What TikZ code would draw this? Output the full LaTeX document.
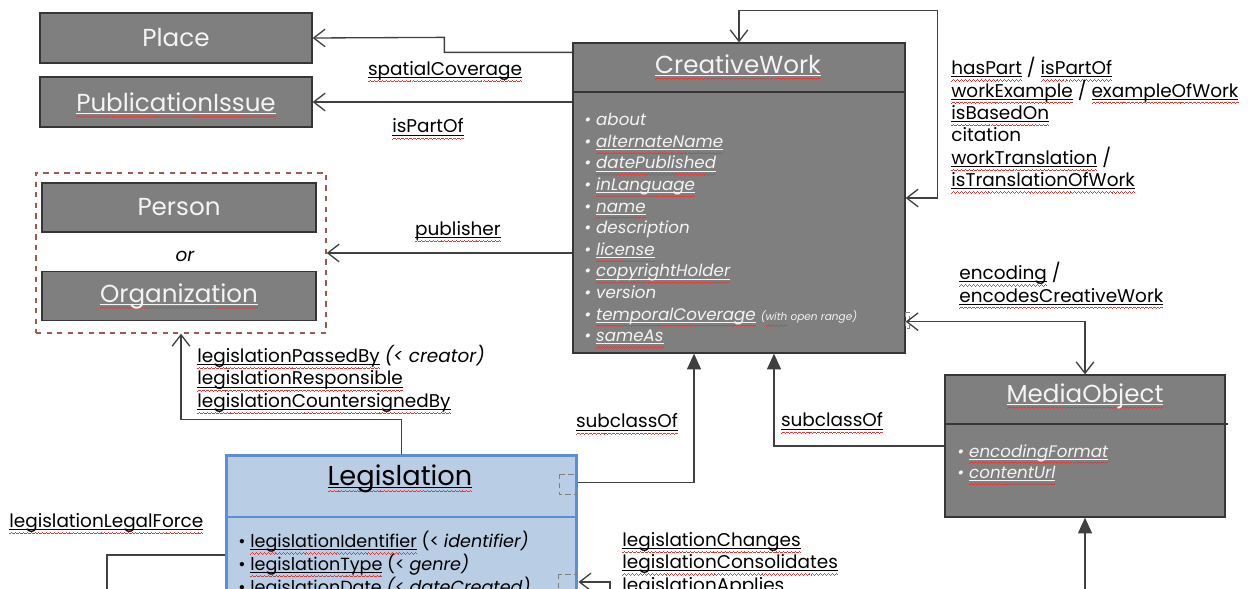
\documentclass[tikz,border=0pt]{standalone}
\usepackage{fontspec}
\setmainfont{Poppins}
\usetikzlibrary{arrows.meta}

\definecolor{boxgray}{HTML}{7F7F7F}
\definecolor{boxline}{HTML}{363636}
\definecolor{boxtext}{HTML}{F4F4F4}
\definecolor{legfill}{HTML}{B9CDE5}
\definecolor{legline}{HTML}{5B8ED6}
\definecolor{grpline}{HTML}{9C5A50}
\definecolor{conline}{HTML}{404040}
\definecolor{squig}{HTML}{E23A3A}

% link underline with the spell-check wave under it
\newsavebox{\lnkbox}
\newcommand{\wavecell}{\hbox{\rule[-3.8pt]{0.55pt}{0.5pt}\rule[-3.45pt]{0.55pt}{0.5pt}\rule[-3.1pt]{0.55pt}{0.5pt}\rule[-3.45pt]{0.55pt}{0.5pt}}}
\newcommand{\sqline}{\smash{\rlap{\color{squig}\hbox to \wd\lnkbox{\xleaders\wavecell\hfil}}}}
\newcommand{\lnk}[1]{\sbox{\lnkbox}{#1}\smash{\rlap{\rule[-1.3pt]{\wd\lnkbox}{0.4pt}}}\sqline\usebox{\lnkbox}}
\newcommand{\sq}[1]{\sbox{\lnkbox}{#1}\sqline\usebox{\lnkbox}}

\begin{document}
\begin{tikzpicture}[x=0.02cm, y=-0.02cm,
  graybox/.style={draw=boxline, fill=boxgray, line width=0.75pt, text=boxtext, font=\fontsize{14}{16}\selectfont},
  grpbox/.style={draw=grpline, dashed, line width=0.75pt},
  legbox/.style={draw=legline, fill=legfill, line width=1.7pt},
  title/.style={inner sep=0pt, font=\fontsize{14}{16}\selectfont},
  items/.style={anchor=north west, align=left, inner sep=0pt, text=boxtext, font=\fontsize{9.5}{12.3}\selectfont},
  lbl/.style={inner sep=0pt, font=\fontsize{10.5}{12.75}\selectfont},
  assoc/.style={draw=conline, line width=0.75pt, -{Straight Barb[length=6.5pt,width=10pt]}},
  assocboth/.style={draw=conline, line width=0.75pt, {Straight Barb[length=6.5pt,width=10pt]}-{Straight Barb[length=6.5pt,width=10pt]}},
  gen/.style={draw=conline, line width=0.75pt, -{Triangle[length=9pt,width=8pt]}},
  plain/.style={draw=conline, line width=0.75pt},
  pin/.style={draw=gray, densely dashed, line width=0.4pt}]
  \useasboundingbox (0,0) rectangle (1250,588);
  \clip (0,0) rectangle (1250,588);

  % left column
  \node[graybox, minimum width=5.44cm, minimum height=1cm] (place) at (176,38) {Place};
  \node[graybox, minimum width=5.44cm, minimum height=1cm] (pub) at (176,102) {\lnk{PublicationIssue}};
  \node[grpbox, minimum width=5.8cm, minimum height=3.2cm] (grp) at (181,253) {};
  \node[graybox, minimum width=5.48cm, minimum height=0.98cm] (person) at (179,207.5) {Person};
  \node[lbl, font=\fontsize{10.5}{12.75}\selectfont\itshape] (or) at (185,256) {or};
  \node[graybox, minimum width=5.48cm, minimum height=0.98cm] (org) at (179,296) {\lnk{Organization}};

  % CreativeWork
  \node[graybox, minimum width=6.64cm, minimum height=6.2cm] (cw) at (739,198) {};
  \node[title, text=boxtext] (cwtitle) at (738,64) {\lnk{CreativeWork}};
  \draw[boxline, line width=0.75pt] (cw.west |- 0,92) -- (cw.east |- 0,92);
  \node[items, font=\fontsize{9.5}{12.3}\selectfont\itshape] (cwitems) at (584,113) {%
    • about\\
    • \lnk{alternateName}\\
    • \lnk{datePublished}\\
    • \lnk{inLanguage}\\
    • \lnk{name}\\
    • description\\
    • \lnk{license}\\
    • \lnk{copyrightHolder}\\
    • version\\
    • \lnk{temporalCoverage} {\fontsize{6}{7}\selectfont(\sq{with} open range)}\\
    • \lnk{sameAs}};

  % MediaObject
  \node[graybox, minimum width=5.6cm, minimum height=2.84cm] (mo) at (1085,446) {};
  \node[title, text=boxtext] (motitle) at (1085,396) {\lnk{MediaObject}};
  \draw[boxline, line width=0.75pt] (mo.west |- 0,424) -- (1228,424);
  \node[items, font=\fontsize{9.5}{12.3}\selectfont\itshape] (moitems) at (957,444) {%
    • \lnk{encodingFormat}\\
    • \lnk{contentUrl}};

  % Legislation
  \node[legbox, minimum width=7.02cm, minimum height=4cm] (leg) at (401.5,555) {};
  \node[title, font=\fontsize{15.5}{18}\selectfont] (legtitle) at (400,479) {\lnk{Legislation}};
  \draw[legline, line width=1.7pt] (leg.west |- 0,517) -- (leg.east |- 0,517);
  \node[items, text=black, font=\fontsize{10}{11.6}\selectfont] (legitems) at (238,531) {%
    • \lnk{legislationIdentifier} (< \textit{identifier)}\\
    • \lnk{legislationType} (< \textit{genre)}\\
    • \lnk{legislationDate} \textit{(< dateCreated)}};
  \draw[pin] (559,474) rectangle (577,494);
  \draw[pin] (558,574) rectangle (577,592);
  \draw[pin] (905,312) rectangle (909,328);

  % free ends below the picture
  \coordinate (forceend) at (107,620);
  \coordinate (chgend) at (610,620);
  \coordinate (moend) at (1085,620);

  % connectors
  \draw[assoc] ([yshift=-0.2cm]cw.north west) -| ++(-128,-15) -- (place.east);
  \draw[assoc] (cw.west |- pub.east) -- (pub.east);
  \draw[assoc] (cw.west |- grp.east) -- (grp.east);
  \draw[assocboth] (cw.north) -- ++(0,-32) -| ([xshift=0.64cm]cw.east) -- (cw.east);
  \draw[assocboth] ([yshift=0.64cm]cw.south east) -| (mo.north);
  \draw[gen] ([yshift=-0.58cm]leg.north east) -| ([xshift=-0.9cm]cw.south);
  \draw[gen] (mo.west) -| ([xshift=0.7cm]cw.south);
  \draw[gen] (moend) -- (mo.south);
  \draw[assoc] (leg.north) -- ++(0,-34) -| (grp.south);
  \draw[plain] (leg.west) -| (forceend);
  \draw[assoc] (chgend) |- ([yshift=-0.54cm]leg.east);

  % labels
  \node[lbl] (lspatial) at (445,71) {\lnk{spatialCoverage}};
  \node[lbl] (lpartof) at (428,126) {\lnk{isPartOf}};
  \node[lbl] (lpublisher) at (458,231) {\lnk{publisher}};
  \node[lbl, align=left, anchor=north west] (lloop) at (951,57) {%
    \lnk{hasPart} / \lnk{isPartOf}\\
    \lnk{workExample} / \lnk{exampleOfWork}\\
    \lnk{isBasedOn}\\
    citation\\
    \lnk{workTranslation} /\\
    \lnk{isTranslationOfWork}};
  \node[lbl, align=left, anchor=north west] (lencoding) at (959,262) {%
    \lnk{encoding} /\\
    \lnk{encodesCreativeWork}};
  \node[lbl, align=left, anchor=north west] (lpassed) at (197,345) {%
    \lnk{legislationPassedBy} \textit{(< creator)}\\
    \lnk{legislationResponsible}\\
    \lnk{legislationCountersignedBy}};
  \node[lbl] (lsub1) at (627,421) {\lnk{subclassOf}};
  \node[lbl] (lsub2) at (832,420) {\lnk{subclassOf}};
  \node[lbl, anchor=west] (lforce) at (9,523) {\lnk{legislationLegalForce}};
  \node[lbl, align=left, anchor=north west] (lchanges) at (622,532) {%
    \lnk{legislationChanges}\\
    \lnk{legislationConsolidates}\\
    \lnk{legislationApplies}};
\end{tikzpicture}
\end{document}
